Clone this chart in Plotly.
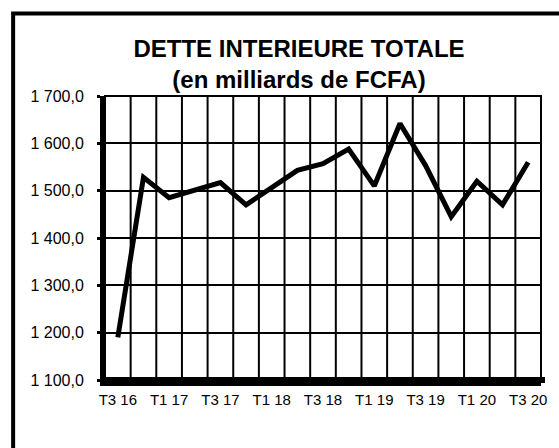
import plotly.graph_objects as go

# Quarterly domestic debt, billions of FCFA
quarters = ["T3 16", "T4 16", "T1 17", "T2 17", "T3 17", "T4 17", "T1 18", "T2 18",
            "T3 18", "T4 18", "T1 19", "T2 19", "T3 19", "T4 19", "T1 20", "T2 20", "T3 20"]
debt = [1190, 1528, 1485, 1502, 1517, 1470, 1507, 1543,
        1557, 1588, 1510, 1642, 1553, 1445, 1520, 1470, 1560]
shown_labels = quarters[::2]

W, H = 559, 448
L, R, T, B = 105, 15, 96, 68
pw, ph = W - L - R, H - T - B


def px_x(x):
    return (x - L) / pw


def px_y(y):
    return 1 - (y - T) / ph


FONT = "Arial, Liberation Sans, sans-serif"
n = len(quarters)

fig = go.Figure()
fig.add_trace(go.Scatter(
    x=quarters, y=debt,
    mode="lines", line=dict(color="black", width=5),
    hoverinfo="x+y", showlegend=False,
))

# vertical grid lines on the boundaries between quarters
shapes = [
    dict(type="line", xref="x", yref="paper", x0=i - 0.5, x1=i - 0.5, y0=0, y1=1,
         line=dict(color="black", width=2), layer="below")
    for i in range(1, n)
]
# thin border closing the plot area (top and right edges)
shapes.append(dict(type="rect", xref="paper", yref="paper", x0=0, x1=1, y0=0, y1=1,
                   line=dict(color="black", width=2), layer="above"))
# heavy base line along the category axis
shapes.append(dict(type="line", xref="paper", yref="paper",
                   x0=px_x(L - 4), x1=px_x(W - R + 4), y0=0, y1=0,
                   line=dict(color="black", width=6), layer="above"))
# outer chart frame
shapes.append(dict(type="rect", xref="paper", yref="paper",
                   x0=px_x(12.5), x1=px_x(W + 20), y0=px_y(H + 20), y1=px_y(13.5),
                   line=dict(color="black", width=4), layer="above"))

fig.update_layout(
    width=W, height=H,
    margin=dict(l=L, r=R, t=T, b=B),
    paper_bgcolor="white", plot_bgcolor="white",
    separators=", ",
    font=dict(family=FONT, color="black", size=16),
    title=dict(
        text="DETTE INTERIEURE TOTALE<br>(en milliards de FCFA)",
        x=299 / W, xanchor="center", xref="container",
        y=1 - 57 / H, yanchor="top", yref="container",
        font=dict(family=FONT, size=24, color="black", weight="bold"),
    ),
    xaxis=dict(
        type="category", range=[-0.5, n - 0.5],
        tickmode="array", tickvals=shown_labels, ticktext=shown_labels,
        showgrid=False, zeroline=False, ticks="",
        showline=True, linecolor="black", linewidth=6,
        tickfont=dict(family=FONT, size=15, color="black"),
        ticklabelstandoff=1,
    ),
    yaxis=dict(
        range=[1100, 1700], tickmode="linear", tick0=1100, dtick=100,
        tickformat=",.1f",
        showgrid=True, gridcolor="black", gridwidth=2, zeroline=False,
        showline=True, linecolor="black", linewidth=5,
        ticks="outside", ticklen=3, tickwidth=3, tickcolor="black",
        tickfont=dict(family=FONT, size=16, color="black"),
        ticklabelstandoff=10,
    ),
    shapes=shapes,
)

fig.write_html("out.html")
